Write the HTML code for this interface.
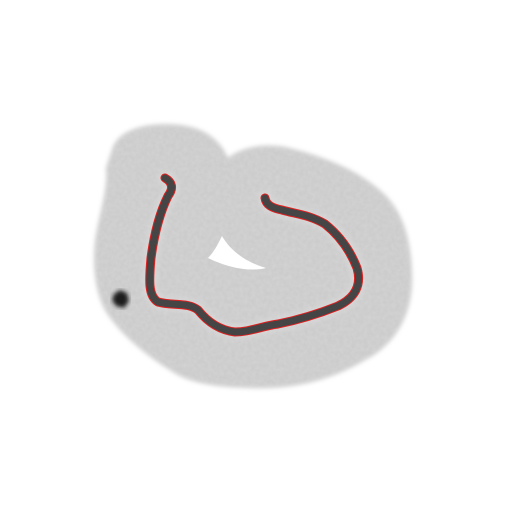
<!DOCTYPE html>
<html><head><meta charset="utf-8"><style>
html,body{margin:0;padding:0;background:#fff;}
svg{display:block;}
</style></head><body>
<svg width="512" height="512" viewBox="0 0 512 512">
<defs>
<filter id="blur" x="-10%" y="-10%" width="120%" height="120%"><feGaussianBlur stdDeviation="2"/></filter>
<filter id="noise"><feTurbulence type="fractalNoise" baseFrequency="0.25" numOctaves="2" seed="3"/><feColorMatrix type="matrix" values="0 0 0 0 0.78 0 0 0 0 0.78 0 0 0 0 0.78 0 0 0 -1.2 0.9"/><feComposite in2="SourceGraphic" operator="in"/></filter>
</defs>
<rect width="512" height="512" fill="#fff"/>
<path fill="#cccccc" filter="url(#blur)"
 d="M112,150 C118,128 150,122 180,125 C205,128 220,140 228,158 C240,148 262,143 285,147 C320,155 360,170 385,195 C405,215 412,245 412,280 C412,315 395,345 365,360 C335,378 300,388 262,388 C225,388 190,385 170,370 C150,358 120,335 105,310 C92,285 92,250 98,225 C102,205 108,185 106,168 Z"/>
<path fill="#bbb" opacity="0.35" filter="url(#noise)"
 d="M112,150 C118,128 150,122 180,125 C205,128 220,140 228,158 C240,148 262,143 285,147 C320,155 360,170 385,195 C405,215 412,245 412,280 C412,315 395,345 365,360 C335,378 300,388 262,388 C225,388 190,385 170,370 C150,358 120,335 105,310 C92,285 92,250 98,225 C102,205 108,185 106,168 Z"/>
<path fill="#fff" d="M222,236 C230,250 245,262 266,268 C250,272 228,268 208,258 C214,252 218,244 222,236 Z"/>
<path fill="none" stroke="#dcdcdc" stroke-width="16" stroke-linecap="round" stroke-linejoin="round" opacity="0.5" filter="url(#blur)"
 d="M165,178 C172,182 174,188 168,196 C160,212 154,235 151,258 C149,280 148,296 158,302 C172,306 188,302 198,310 C206,320 218,330 235,332 C250,332 262,326 278,324 C298,320 318,314 338,306 C355,298 362,285 357,268 C350,250 340,236 325,224 C310,215 296,214 282,210 C272,208 266,205 265,198"/>
<path fill="none" stroke="#e02020" stroke-width="9" stroke-linecap="round" stroke-linejoin="round"
 d="M165,178 C172,182 174,188 168,196 C160,212 154,235 151,258 C149,280 148,296 158,302 C172,306 188,302 198,310 C206,320 218,330 235,332 C250,332 262,326 278,324 C298,320 318,314 338,306 C355,298 362,285 357,268 C350,250 340,236 325,224 C310,215 296,214 282,210 C272,208 266,205 265,198"/>
<path fill="none" stroke="#454545" stroke-width="7" stroke-linecap="round" stroke-linejoin="round"
 d="M165,178 C172,182 174,188 168,196 C160,212 154,235 151,258 C149,280 148,296 158,302 C172,306 188,302 198,310 C206,320 218,330 235,332 C250,332 262,326 278,324 C298,320 318,314 338,306 C355,298 362,285 357,268 C350,250 340,236 325,224 C310,215 296,214 282,210 C272,208 266,205 265,198"/>
<path fill="#1a1a1a" filter="url(#blur)" d="M114,294 L120,290 L127,293 L129,301 L124,308 L116,306 L112,300 Z"/>
</svg>
</body></html>
